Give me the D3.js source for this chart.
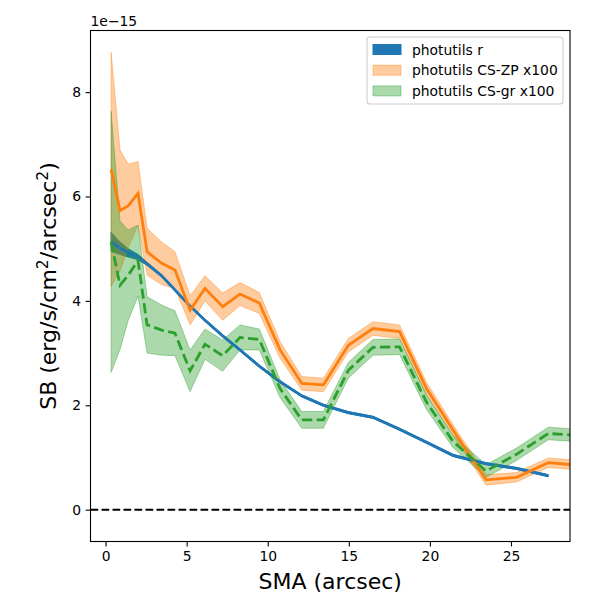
<!DOCTYPE html>
<html>
<head>
<meta charset="utf-8">
<script src="https://cdn.jsdelivr.net/npm/d3@7"></script>
<style>
  body { margin: 0; background: #fff; }
  text { font-family: "DejaVu Sans", sans-serif; fill: #000; }
</style>
</head>
<body>
<svg id="chart" width="600" height="600"></svg>
<script>
// SMA grid (arcsec)
var sma = [0.34, 0.89, 1.39, 2.00, 2.56, 3.46, 4.28, 5.21, 6.13, 7.22, 8.29, 9.48,
           10.76, 12.10, 13.43, 14.97, 16.49, 18.13, 19.79, 21.42, 23.46, 25.34, 27.30, 29.25];
// surface brightness, units of 1e-15
var sbR  = [5.13, 5.01, 4.92, 4.84, 4.71, 4.48, 4.21, 3.90, 3.63, 3.33, 3.06, 2.75,
            2.45, 2.18, 2.00, 1.86, 1.77, 1.54, 1.29, 1.04, 0.88, 0.79, 0.65];
var errR = [0.18, 0.12, 0.08, 0.05, 0.03, 0.02, 0.02, 0.02, 0.02, 0.02, 0.02, 0.02,
            0.02, 0.02, 0.02, 0.02, 0.02, 0.02, 0.02, 0.02, 0.02, 0.02, 0.02];
var sbZP  = [6.52, 5.73, 5.82, 6.06, 4.94, 4.72, 4.59, 3.82, 4.24, 3.89, 4.13, 3.96,
             3.06, 2.42, 2.39, 3.15, 3.47, 3.41, 2.32, 1.53, 0.57, 0.62, 0.90, 0.85];
var errZP = [2.24, 1.16, 0.80, 0.61, 0.45, 0.41, 0.35, 0.28, 0.24, 0.26, 0.22, 0.20,
             0.16, 0.13, 0.13, 0.13, 0.13, 0.13, 0.12, 0.10, 0.10, 0.09, 0.09, 0.09];
var sbGR  = [5.13, 4.30, 4.49, 4.77, 3.54, 3.44, 3.38, 2.66, 3.17, 2.95, 3.30, 3.26,
             2.32, 1.72, 1.72, 2.67, 3.11, 3.12, 2.06, 1.31, 0.74, 1.06, 1.46, 1.42];
var errGR = [2.50, 1.23, 0.87, 0.68, 0.54, 0.48, 0.43, 0.40, 0.29, 0.30, 0.24, 0.20,
             0.17, 0.16, 0.16, 0.15, 0.15, 0.15, 0.14, 0.12, 0.12, 0.12, 0.12, 0.12];
var xTicks = [0, 5, 10, 15, 20, 25];
var yTicks = [0, 2, 4, 6, 8];
var labels = ["photutils r", "photutils CS-ZP x100", "photutils CS-gr x100"];

var L = 90.5, R = 570, T = 30.5, B = 541.5;
var svg = d3.select("#chart");
var x = d3.scaleLinear().domain([-0.93, 28.64]).range([L, R]);
var y = d3.scaleLinear().domain([-0.61, 9.18]).range([B, T]);

svg.append("defs").append("clipPath").attr("id", "clip")
  .append("rect").attr("x", L).attr("y", T).attr("width", R - L).attr("height", B - T);
var plot = svg.append("g").attr("clip-path", "url(#clip)");

function rows(vals, errs) {
  return vals.map(function (v, i) { return { x: sma[i], v: v, e: errs[i] }; });
}
var area = d3.area().x(function (d) { return x(d.x); })
  .y0(function (d) { return y(d.v - d.e); })
  .y1(function (d) { return y(d.v + d.e); });
var line = d3.line().x(function (d) { return x(d.x); }).y(function (d) { return y(d.v); });

var series = [
  { d: rows(sbR, errR), c: "#1f77b4", a: 1, dash: null },
  { d: rows(sbZP, errZP), c: "#ff7f0e", a: 0.4, dash: null },
  { d: rows(sbGR, errGR), c: "#2ca02c", a: 0.4, dash: "10.3,4.4" }
];

series.forEach(function (s) {
  plot.append("path").attr("d", area(s.d))
    .attr("fill", s.c).attr("fill-opacity", s.a)
    .attr("stroke", s.c).attr("stroke-opacity", s.a).attr("stroke-width", 1);
});
series.forEach(function (s) {
  plot.append("path").attr("d", line(s.d))
    .attr("fill", "none").attr("stroke", s.c).attr("stroke-width", 2.8)
    .attr("stroke-dasharray", s.dash);
});

// zero line
plot.append("line").attr("x1", L).attr("x2", R).attr("y1", y(0)).attr("y2", y(0))
  .attr("stroke", "#000").attr("stroke-width", 2).attr("stroke-dasharray", "7.7,3.3");

// axes
var xAxis = d3.axisBottom(x).tickValues(xTicks).tickSize(4.9).tickPadding(4.5);
var yAxis = d3.axisLeft(y).tickValues(yTicks).tickSize(4.9).tickPadding(4.5);
var gx = svg.append("g").attr("transform", "translate(0," + B + ")").call(xAxis);
var gy = svg.append("g").attr("transform", "translate(" + L + ",0)").call(yAxis);
[gx, gy].forEach(function (g) {
  g.select(".domain").remove();
  g.selectAll(".tick line").attr("stroke", "#000").attr("stroke-width", 1.1);
  g.selectAll(".tick text").attr("font-size", 13.9).attr("font-family", "DejaVu Sans");
});
svg.append("rect").attr("x", L).attr("y", T).attr("width", R - L).attr("height", B - T)
  .attr("fill", "none").attr("stroke", "#000").attr("stroke-width", 1.1);

svg.append("text").attr("x", L).attr("y", 26).attr("font-size", 13.9).text("1e\u221215");

svg.append("text").attr("x", (L + R) / 2).attr("y", 589).attr("text-anchor", "middle")
  .attr("font-size", 22).text("SMA (arcsec)");

var yl = svg.append("text").attr("transform", "translate(56," + (T + B) / 2 + ") rotate(-90)")
  .attr("text-anchor", "middle").attr("font-size", 22);
yl.append("tspan").text("SB (erg/s/cm");
yl.append("tspan").attr("dy", -8).attr("font-size", 15.5).text("2");
yl.append("tspan").attr("dy", 8).text("/arcsec");
yl.append("tspan").attr("dy", -8).attr("font-size", 15.5).text("2");
yl.append("tspan").attr("dy", 8).text(")");

// legend
var lg = svg.append("g");
lg.append("rect").attr("x", 367).attr("y", 37).attr("width", 196).attr("height", 67)
  .attr("rx", 3).attr("fill", "#fff").attr("fill-opacity", 0.8)
  .attr("stroke", "#cccccc").attr("stroke-width", 1.1);
labels.forEach(function (t, i) {
  var cy = 49.5 + i * 20.7;
  lg.append("rect").attr("x", 373).attr("y", cy - 5).attr("width", 28).attr("height", 10)
    .attr("fill", series[i].c).attr("fill-opacity", series[i].a)
    .attr("stroke", series[i].c).attr("stroke-opacity", series[i].a);
  lg.append("text").attr("x", 412).attr("y", cy + 5).attr("font-size", 13.9).text(t);
});
</script>
</body>
</html>
